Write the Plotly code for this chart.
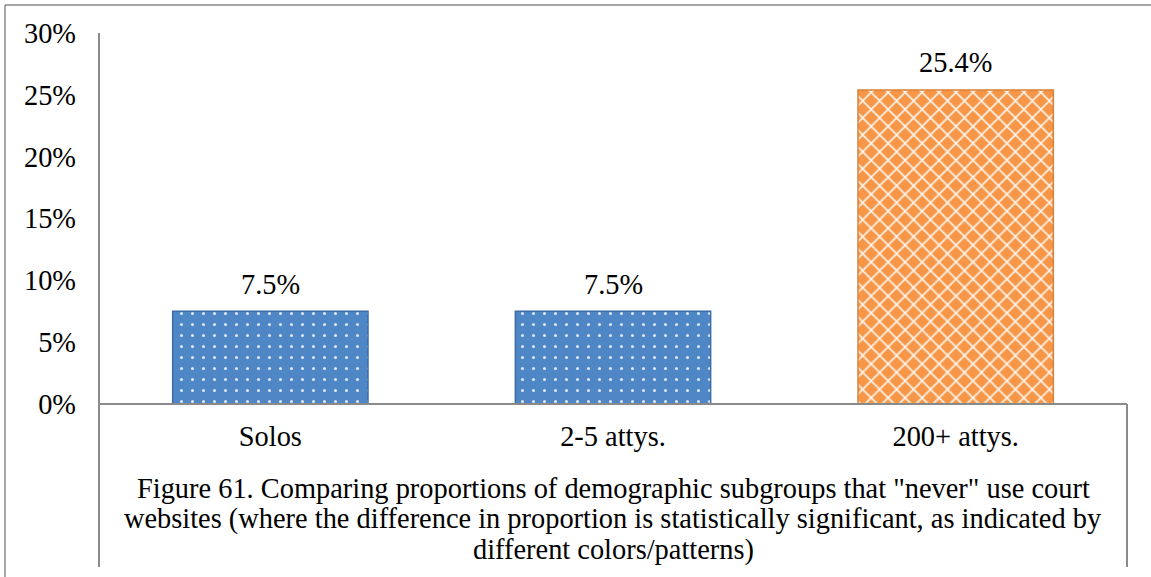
import plotly.graph_objects as go

categories = ["Solos", "2-5 attys.", "200+ attys."]
values = [7.5, 7.5, 25.4]
value_labels = ["7.5%", "7.5%", "25.4%"]
bar_colors = ["#4F86C6", "#4F86C6", "#F79646"]
edge_colors = ["#3C6DA6", "#3C6DA6", "#D9813A"]
pattern_shapes = [".", ".", "x"]
pattern_sizes = [11, 11, 12]
pattern_solidity = [0.06, 0.06, 0.25]
pattern_opacity = [0.8, 0.8, 0.9]
y_ticks = [0, 5, 10, 15, 20, 25, 30]
y_tick_labels = ["0%", "5%", "10%", "15%", "20%", "25%", "30%"]
caption_lines = [
    'Figure 61. Comparing proportions of demographic subgroups that "never" use court',
    'websites (where the difference in proportion is statistically significant, as indicated by',
    'different colors/patterns)',
]

W, H = 1151, 577
L, R, T, B = 99, 1127, 33, 404  # plot area in pixels
FONT = "Liberation Serif"
FS = 28.4
AXIS_GRAY = "#8A8A8A"


def px_x(x):
    return (x - L) / (R - L)


def px_y(y):
    return (B - y) / (B - T)


fig = go.Figure()
for i, (c, v) in enumerate(zip(categories, values)):
    fig.add_trace(go.Bar(
        x=[c],
        y=[v],
        marker=dict(
            color=bar_colors[i],
            line=dict(color=edge_colors[i], width=1.5),
            pattern=dict(
                shape=pattern_shapes[i],
                fgcolor="#FFFFFF",
                bgcolor=bar_colors[i],
                fgopacity=pattern_opacity[i],
                size=pattern_sizes[i],
                solidity=pattern_solidity[i],
                fillmode="overlay",
            ),
        ),
        hoverinfo="skip",
    ))

annotations = []
for c, v, t in zip(categories, values, value_labels):
    annotations.append(dict(
        x=c, y=v, xref="x", yref="y", text=t, showarrow=False,
        yanchor="middle", yshift=27, font=dict(family=FONT, size=FS, color="black"),
    ))

caption_y = [488, 519, 550]
for line, yy in zip(caption_lines, caption_y):
    annotations.append(dict(
        x=0.5, y=px_y(yy), xref="paper", yref="paper", text=line, showarrow=False,
        xanchor="center", yanchor="middle", font=dict(family=FONT, size=FS, color="black"),
    ))

shapes = [
    # y-axis line extending through category box
    dict(type="line", xref="paper", yref="paper", x0=0, x1=0, y0=px_y(T), y1=px_y(567),
         line=dict(color=AXIS_GRAY, width=2)),
    # x-axis line
    dict(type="line", xref="paper", yref="paper", x0=0, x1=1, y0=0, y1=0,
         line=dict(color=AXIS_GRAY, width=2)),
    # right edge of category box
    dict(type="line", xref="paper", yref="paper", x0=1, x1=1, y0=0, y1=px_y(567),
         line=dict(color=AXIS_GRAY, width=2)),
    # outer chart border (top and left)
    dict(type="line", xref="paper", yref="paper", x0=px_x(5), x1=px_x(W + 5), y0=px_y(5), y1=px_y(5),
         line=dict(color=AXIS_GRAY, width=1.5)),
    dict(type="line", xref="paper", yref="paper", x0=px_x(5), x1=px_x(5), y0=px_y(5), y1=px_y(H + 5),
         line=dict(color=AXIS_GRAY, width=1.5)),
]

fig.update_layout(
    width=W, height=H,
    margin=dict(l=L, r=W - R, t=T, b=H - B),
    paper_bgcolor="white", plot_bgcolor="white",
    barmode="overlay",
    bargap=0.43,
    showlegend=False,
    font=dict(family=FONT, size=FS, color="black"),
    annotations=annotations,
    shapes=shapes,
    xaxis=dict(
        categoryorder="array", categoryarray=categories,
        showgrid=False, showline=False, zeroline=False,
        ticks="", ticklabelstandoff=13,
        tickfont=dict(family=FONT, size=FS, color="black"),
    ),
    yaxis=dict(
        range=[0, 30], tickvals=y_ticks, ticktext=y_tick_labels,
        showgrid=False, showline=False, zeroline=False,
        ticks="", ticklabelstandoff=22,
        tickfont=dict(family=FONT, size=FS, color="black"),
    ),
)

fig.write_html(
    "out.html",
    config={"displayModeBar": False},
    post_script="document.body.style.margin='0';document.body.style.overflow='hidden';",
)
